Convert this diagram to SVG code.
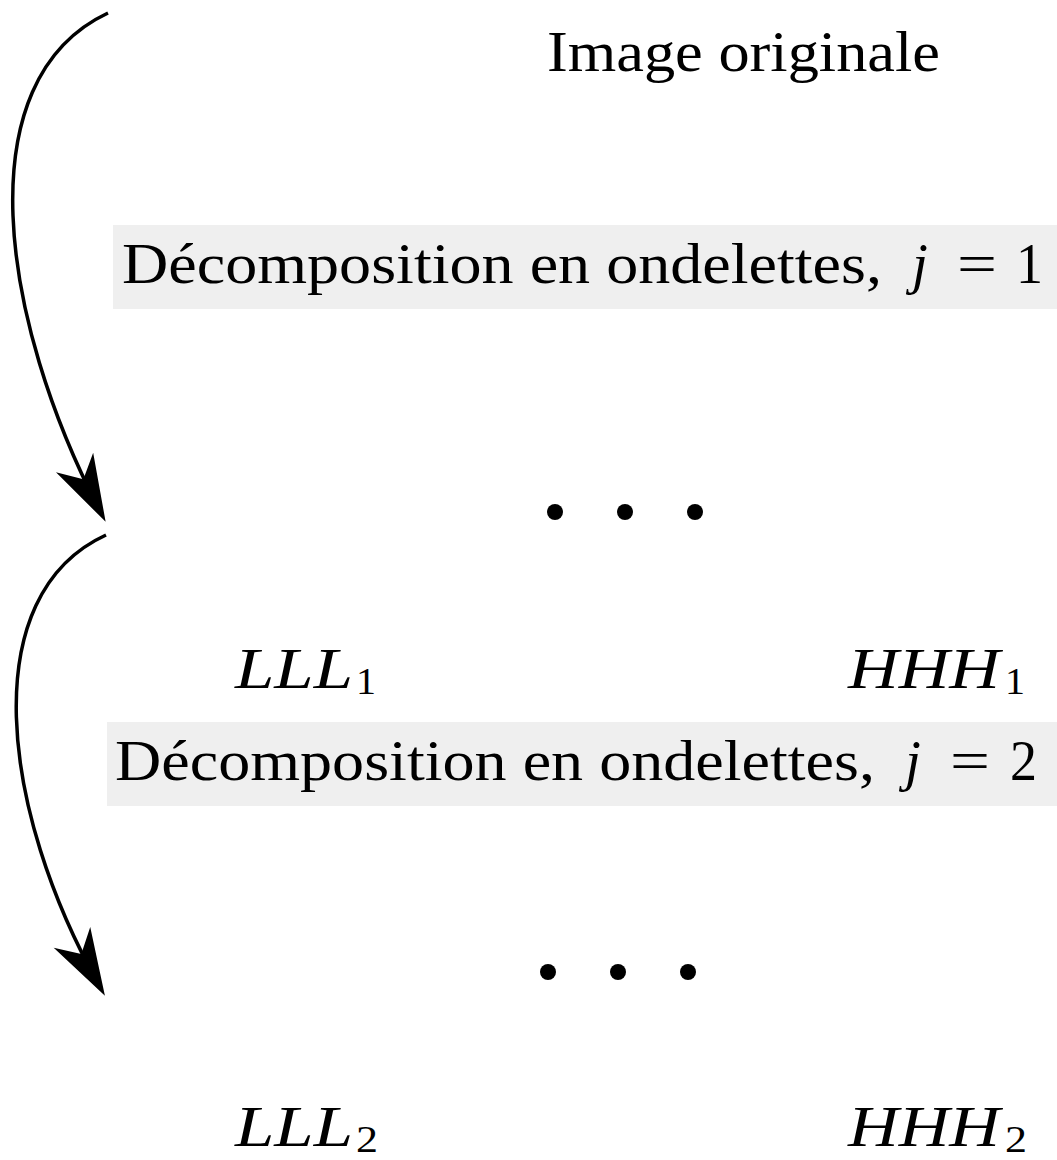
<svg xmlns="http://www.w3.org/2000/svg" width="1057" height="1160" viewBox="0 0 1057 1160">
<style>
.t{font-family:"Liberation Serif","DejaVu Serif",serif;font-size:57px;fill:#000}
.i{font-style:italic}
.s{font-size:38px}
.box{fill:#efefef}
.arr{fill:none;stroke:#000;stroke-width:3.5}
</style>
<defs>
<marker id="ah" markerUnits="userSpaceOnUse" markerWidth="90" markerHeight="60" viewBox="-70 -30 90 60" refX="0" refY="0" orient="auto" overflow="visible">
<path d="M10,0 L-57,-21 L-38,0 L-57,21 Z" fill="#000"/>
</marker>
</defs>
<rect width="1057" height="1160" fill="#fff"/>
<g id="connectors">
<path class="arr" d="M108,13 C -35,80 0,320 101,513" marker-end="url(#ah)"/>
<path class="arr" d="M106,535 C -25,595 0,810 100,987" marker-end="url(#ah)"/>
</g>
<g id="image-originale">
<text class="t" x="547" y="71" textLength="393" lengthAdjust="spacingAndGlyphs">Image originale</text>
</g>
<g id="decomp1">
<rect class="box" x="113" y="225" width="944" height="84"/>
<text class="t" x="122" y="283" textLength="760" lengthAdjust="spacingAndGlyphs">Décomposition en ondelettes,</text>
<text class="t i" x="912" y="283">j</text>
<text class="t" x="957" y="283" textLength="40" lengthAdjust="spacingAndGlyphs">=</text>
<text class="t" x="1016" y="283" textLength="27" lengthAdjust="spacingAndGlyphs">1</text>
</g>
<g id="dots1">
<circle cx="555" cy="512" r="8"/><circle cx="625" cy="512" r="8"/><circle cx="695" cy="512" r="8"/>
</g>
<g id="lll1">
<text class="t i" x="235" y="688" textLength="118" lengthAdjust="spacingAndGlyphs">LLL</text>
<text class="t s" x="356" y="694" textLength="20" lengthAdjust="spacingAndGlyphs">1</text>
</g>
<g id="hhh1">
<text class="t i" x="848" y="688" textLength="152" lengthAdjust="spacingAndGlyphs">HHH</text>
<text class="t s" x="1005" y="694" textLength="20" lengthAdjust="spacingAndGlyphs">1</text>
</g>
<g id="decomp2">
<rect class="box" x="107" y="722" width="950" height="84"/>
<text class="t" x="115" y="780" textLength="760" lengthAdjust="spacingAndGlyphs">Décomposition en ondelettes,</text>
<text class="t i" x="905" y="780">j</text>
<text class="t" x="950" y="780" textLength="40" lengthAdjust="spacingAndGlyphs">=</text>
<text class="t" x="1010" y="780" textLength="27" lengthAdjust="spacingAndGlyphs">2</text>
</g>
<g id="dots2">
<circle cx="548" cy="972" r="8"/><circle cx="618" cy="972" r="8"/><circle cx="688" cy="972" r="8"/>
</g>
<g id="lll2">
<text class="t i" x="235" y="1146" textLength="118" lengthAdjust="spacingAndGlyphs">LLL</text>
<text class="t s" x="356" y="1152" textLength="22" lengthAdjust="spacingAndGlyphs">2</text>
</g>
<g id="hhh2">
<text class="t i" x="848" y="1146" textLength="152" lengthAdjust="spacingAndGlyphs">HHH</text>
<text class="t s" x="1005" y="1152" textLength="22" lengthAdjust="spacingAndGlyphs">2</text>
</g>
</svg>
